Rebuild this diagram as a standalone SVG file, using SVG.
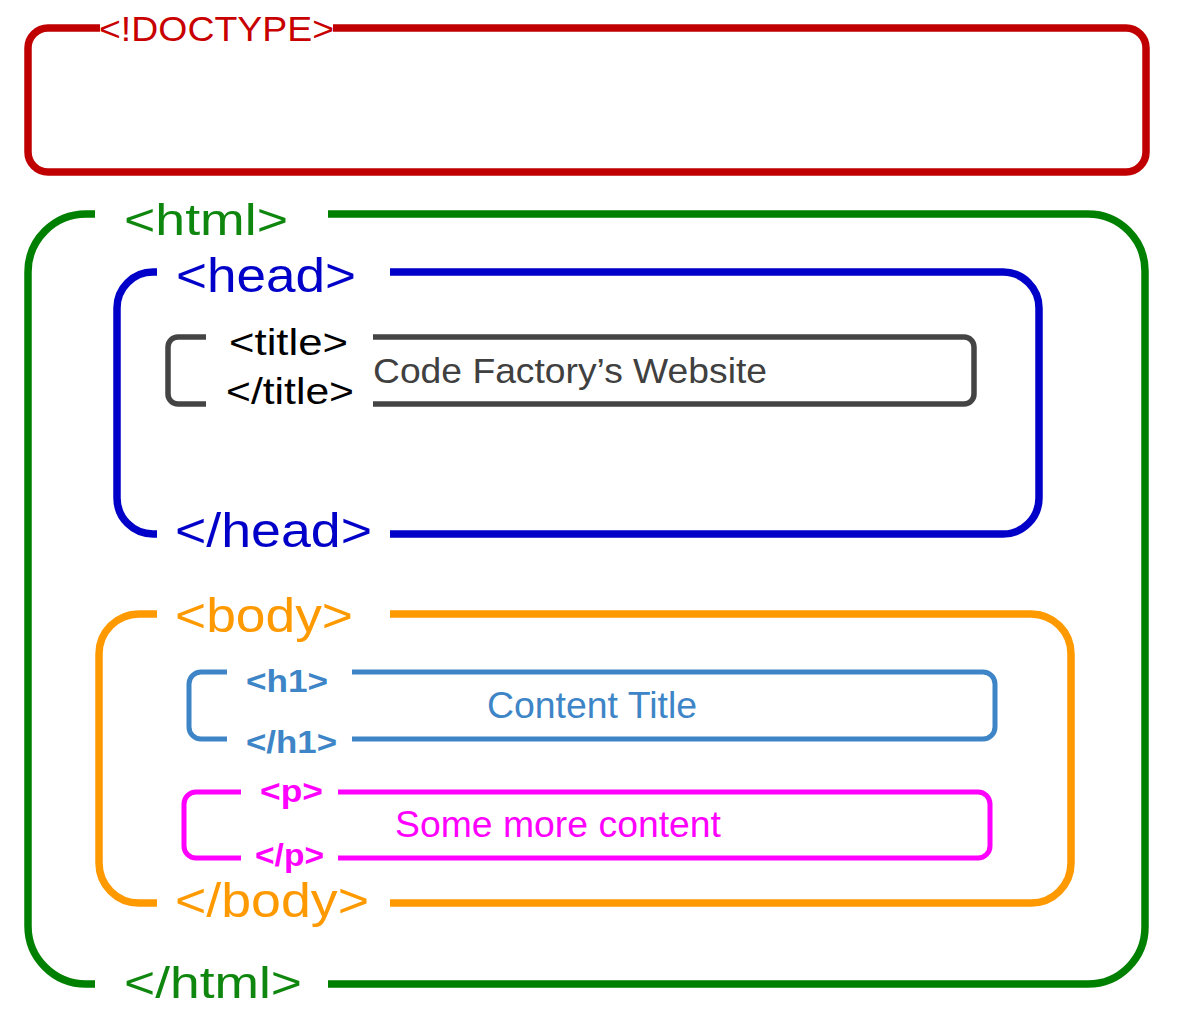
<svg xmlns="http://www.w3.org/2000/svg" width="1186" height="1020" viewBox="0 0 1186 1020">
<style>
  .frame { fill: none; stroke-linecap: butt; stroke-linejoin: round; }
  .big { stroke-width: 7.5; }
  .small { stroke-width: 5; }
  text { font-family: "Liberation Sans", Arial, sans-serif; }
  .b { font-weight: bold; }
</style>
<rect x="0" y="0" width="1186" height="1020" fill="#ffffff"/>
<g id="connectors"></g>

<g id="doctype">
  <path class="frame big" stroke="#C00000" d="M333,28 H1126 A20,20 0 0 1 1146,48 V152 A20,20 0 0 1 1126,172 H48 A20,20 0 0 1 28,152 V48 A20,20 0 0 1 48,28 H100"/>
  <text x="99" y="41" font-size="35" fill="#C80000" textLength="235" lengthAdjust="spacingAndGlyphs">&lt;!DOCTYPE&gt;</text>
</g>

<g id="html">
  <path class="frame big" stroke="#008000" d="M328,214 H1088 A57,57 0 0 1 1145,271 V927 A57,57 0 0 1 1088,984 H328 M95,984 H86 A58,58 0 0 1 28,926 V272 A58,58 0 0 1 86,214 H95"/>
  <text x="124" y="235" font-size="44" fill="#0F870F" textLength="164" lengthAdjust="spacingAndGlyphs">&lt;html&gt;</text>
  <text x="124" y="998" font-size="44" fill="#0F870F" textLength="178" lengthAdjust="spacingAndGlyphs">&lt;/html&gt;</text>
</g>

<g id="head">
  <path class="frame big" stroke="#0000C8" d="M390,272 H1003 A36,36 0 0 1 1039,308 V498 A36,36 0 0 1 1003,534 H390 M157,534 H153 A36,36 0 0 1 117,498 V308 A36,36 0 0 1 153,272 H157"/>
  <text x="176" y="292" font-size="48" fill="#0000C8" textLength="180" lengthAdjust="spacingAndGlyphs">&lt;head&gt;</text>
  <text x="175" y="547" font-size="48" fill="#0000C8" textLength="197" lengthAdjust="spacingAndGlyphs">&lt;/head&gt;</text>
</g>

<g id="title">
  <path class="frame" stroke-width="5.5" stroke="#444444" d="M373,337 H964 A10,10 0 0 1 974,347 V394 A10,10 0 0 1 964,404 H373 M206,404 H178 A10,10 0 0 1 168,394 V347 A10,10 0 0 1 178,337 H206"/>
  <text x="229" y="355" font-size="37" fill="#000000" textLength="119" lengthAdjust="spacingAndGlyphs">&lt;title&gt;</text>
  <text x="226" y="404" font-size="37" fill="#000000" textLength="128" lengthAdjust="spacingAndGlyphs">&lt;/title&gt;</text>
  <text x="373" y="383" font-size="35" fill="#404040" textLength="394" lengthAdjust="spacingAndGlyphs">Code Factory’s Website</text>
</g>

<g id="body">
  <path class="frame big" stroke="#FF9900" d="M390,614 H1031 A40,40 0 0 1 1071,654 V863 A40,40 0 0 1 1031,903 H390 M157,903 H139 A40,40 0 0 1 99,863 V654 A40,40 0 0 1 139,614 H157"/>
  <text x="175" y="632" font-size="48" fill="#FF9900" textLength="178" lengthAdjust="spacingAndGlyphs">&lt;body&gt;</text>
  <text x="175" y="917" font-size="48" fill="#FF9900" textLength="194" lengthAdjust="spacingAndGlyphs">&lt;/body&gt;</text>
</g>

<g id="h1">
  <path class="frame small" stroke="#3D85C6" d="M352,672 H983 A12,12 0 0 1 995,684 V727 A12,12 0 0 1 983,739 H352 M227,739 H201 A12,12 0 0 1 189,727 V684 A12,12 0 0 1 201,672 H227"/>
  <text class="b" x="246" y="692" font-size="31" fill="#3D85C6" textLength="82" lengthAdjust="spacingAndGlyphs">&lt;h1&gt;</text>
  <text class="b" x="246" y="753" font-size="31" fill="#3D85C6" textLength="91" lengthAdjust="spacingAndGlyphs">&lt;/h1&gt;</text>
  <text x="487" y="718" font-size="36" fill="#3D85C6" textLength="210" lengthAdjust="spacingAndGlyphs">Content Title</text>
</g>

<g id="p">
  <path class="frame small" stroke="#FF00FF" d="M338,792 H978 A12,12 0 0 1 990,804 V846 A12,12 0 0 1 978,858 H338 M241,858 H196 A12,12 0 0 1 184,846 V804 A12,12 0 0 1 196,792 H241"/>
  <text class="b" x="260" y="802" font-size="31" fill="#FF00FF" textLength="63" lengthAdjust="spacingAndGlyphs">&lt;p&gt;</text>
  <text class="b" x="255" y="866" font-size="31" fill="#FF00FF" textLength="69" lengthAdjust="spacingAndGlyphs">&lt;/p&gt;</text>
  <text x="395" y="837" font-size="36" fill="#FF00FF" textLength="326" lengthAdjust="spacingAndGlyphs">Some more content</text>
</g>
</svg>
